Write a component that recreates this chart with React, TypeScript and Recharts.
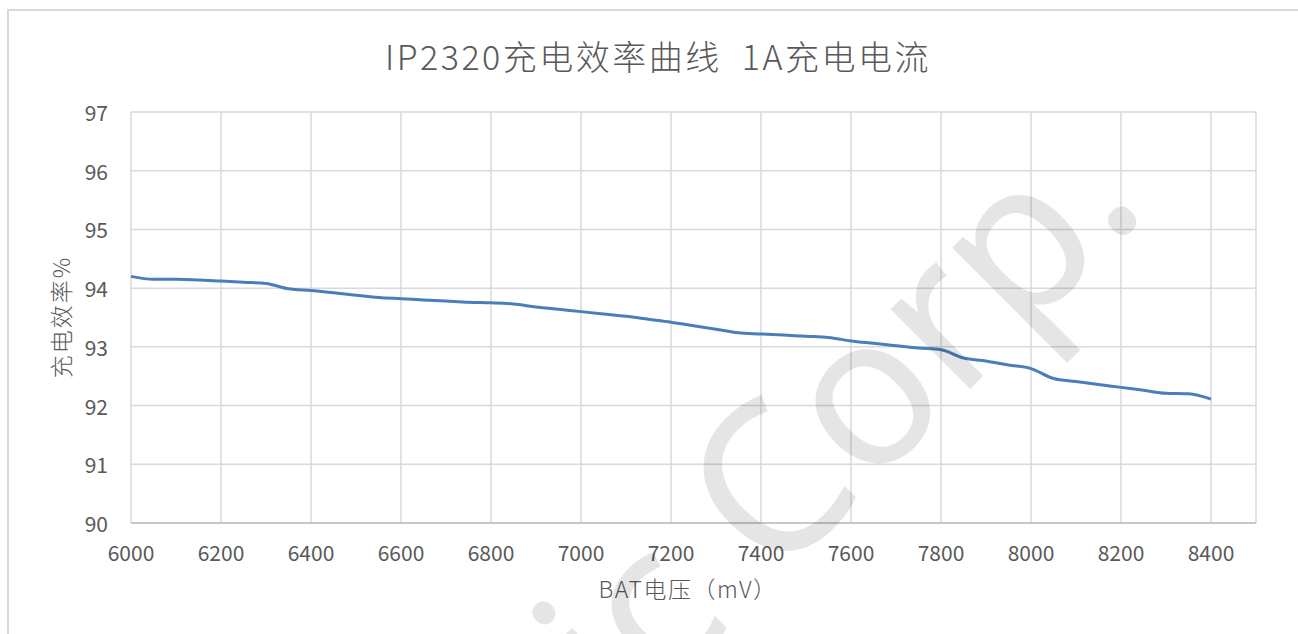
import { LineChart, Line, XAxis, YAxis, CartesianGrid } from 'recharts';

// BAT voltage (mV) and charge efficiency (%)
const voltages = [
  6000, 6050, 6100, 6150, 6200, 6250, 6300, 6350, 6400, 6450, 6500, 6550, 6600, 6650, 6700, 6750, 6800,
  6850, 6900, 6950, 7000, 7050, 7100, 7150, 7200, 7250, 7300, 7350, 7400, 7450, 7500, 7550, 7600, 7650,
  7700, 7750, 7800, 7850, 7900, 7950, 8000, 8050, 8100, 8150, 8200, 8250, 8300, 8350, 8400,
];
const efficiency = [
  94.2, 94.15, 94.15, 94.14, 94.12, 94.1, 94.08, 93.99, 93.96, 93.92, 93.88, 93.84, 93.82, 93.8, 93.78,
  93.76, 93.75, 93.73, 93.68, 93.64, 93.6, 93.56, 93.52, 93.47, 93.42, 93.36, 93.3, 93.24, 93.22, 93.2,
  93.18, 93.16, 93.1, 93.06, 93.02, 92.98, 92.95, 92.81, 92.76, 92.69, 92.63, 92.46, 92.41, 92.36, 92.31,
  92.26, 92.21, 92.2, 92.11,
];

const xTicks = [6000, 6200, 6400, 6600, 6800, 7000, 7200, 7400, 7600, 7800, 8000, 8200, 8400];
const yTicks = [90, 91, 92, 93, 94, 95, 96, 97];

const title = 'IP2320充电效率曲线  1A充电电流';
const xTitle = 'BAT电压（mV）';
const yTitle = '充电效率%';
const watermark = 'Injoinic Corp.';

const data = voltages.map((v, i) => ({ v, eff: efficiency[i] }));

const FONT = '"Noto Sans CJK SC", "Noto Sans", sans-serif';
const TEXT = '#595959';

const XTick = (props: any) => (
  <text x={props.x} y={props.y + 29} textAnchor="middle" dominantBaseline="central"
    fontFamily={FONT} fontSize={21} fill={TEXT}>
    {props.payload.value}
  </text>
);

const YTick = (props: any) => (
  <text x={props.x - 23} y={props.y} textAnchor="end" dominantBaseline="central"
    fontFamily={FONT} fontSize={21} fill={TEXT}>
    {props.payload.value}
  </text>
);

export default function App() {
  return (
    <div style={{ position: 'absolute', left: 0, top: 0, width: 1298, height: 634, overflow: 'hidden', background: '#fff' }}>
      <div style={{ position: 'absolute', left: 7, top: 9, width: 1400, height: 800, border: '2px solid #d9d9d9' }} />
      <div style={{ position: 'absolute', left: 0, top: 0 }}>
        <LineChart width={1298} height={634} data={data} margin={{ top: 112, right: 42, left: 0, bottom: 51 }}>
          <CartesianGrid stroke="#d9d9d9" strokeWidth={1.5} />
          <XAxis dataKey="v" type="number" domain={[6000, 8500]} ticks={xTicks} height={60}
            tickLine={false} tickSize={0} tickMargin={0} stroke="#bfbfbf" strokeWidth={1.5}
            tick={<XTick />} interval={0} />
          <YAxis type="number" domain={[90, 97]} ticks={yTicks} width={131} axisLine={false}
            tickLine={false} tickSize={0} tickMargin={0} tick={<YTick />} interval={0} />
          <Line type="monotone" dataKey="eff" stroke="#4a7ebb" strokeWidth={3} dot={false}
            isAnimationActive={false} />
        </LineChart>
      </div>
      <svg width={1298} height={634} style={{ position: 'absolute', left: 0, top: 0, pointerEvents: 'none' }}>
        <text x={658} y={55} textAnchor="middle" dominantBaseline="central" fontFamily={FONT}
          fontSize={34} fontWeight={300} letterSpacing={2.5} fill={TEXT} style={{ whiteSpace: 'pre' }}>{title}</text>
        <text x={688} y={588} textAnchor="middle" dominantBaseline="central" fontFamily={FONT}
          fontSize={23} fontWeight={300} letterSpacing={1.5} fill={TEXT}>{xTitle}</text>
        <text x={60} y={317} textAnchor="middle" dominantBaseline="central" fontFamily={FONT}
          fontSize={23} fontWeight={300} letterSpacing={2} fill={TEXT} transform="rotate(-90 60 317)">{yTitle}</text>
        <text x={1150} y={209} textAnchor="end" fontFamily='"Noto Sans", sans-serif' fontSize={210}
          fill="rgba(0,0,0,0.1)" transform="rotate(-45 1150 209)">{watermark}</text>
      </svg>
    </div>
  );
}
